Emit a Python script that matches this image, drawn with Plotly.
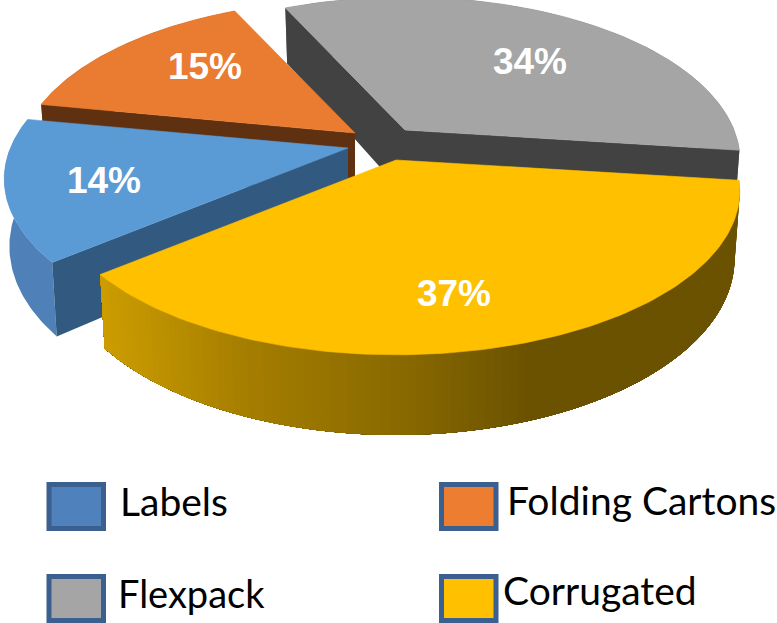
import math
import plotly.graph_objects as go

# ---- data ----
categories = ["Corrugated", "Labels", "Folding Cartons", "Flexpack"]
shares = [37, 14, 15, 34]
top_colors = ["#FFC000", "#5B9BD5", "#E97C30", "#A5A5A5"]
wall_colors = ["#6B5200", "#32597F", "#5F3111", "#424242"]
rim_colors = ["#6B5200", "#4F80B8", "#8A4A1C", "#666666"]
legend_order = ["Labels", "Folding Cartons", "Flexpack", "Corrugated"]
legend_fill = ["#4F81BD", "#ED7D31", "#A5A5A5", "#FFC000"]

# ---- layout of the exploded pie (pixels) ----
W, H = 777, 623
START_DEG = 7.2
RX, RY_S, K, DEPTH, BOTTOM_X = 341.0, 158.0, 0.189, 65.0, 0.985
apex = {"Corrugated": (396, 160), "Labels": (348, 148), "Folding Cartons": (355, 133), "Flexpack": (405, 130)}
x_scale = {"Corrugated": 0.99, "Labels": 0.99, "Folding Cartons": 0.97, "Flexpack": 0.965}
label_pos = {"Corrugated": (454, 297), "Labels": (104, 184), "Folding Cartons": (205, 70), "Flexpack": (530, 65)}
legend_box = {"Labels": (49, 484.5), "Folding Cartons": (441.5, 484.5), "Flexpack": (49, 576.5), "Corrugated": (441.5, 576.5)}
legend_text = {"Labels": (118, 501, 39), "Folding Cartons": (505, 500, 39), "Flexpack": (116, 593, 38), "Corrugated": (501, 590, 39)}
# yellow rim gradient stops: (pixel x, rgb)
grad = [(100, (205, 157, 0)), (250, (165, 126, 0)), (400, (138, 106, 0)), (535, (107, 82, 0)), (760, (107, 82, 0))]


def proj(name, deg, bottom=False, r=1.0):
    t = math.radians(deg)
    c, s = r * math.cos(t), r * math.sin(t)
    w = 1 - K * s
    ax, ay = apex[name]
    x = RX * x_scale[name] * c / w
    y = RY_S * s / w
    if bottom:
        x *= BOTTOM_X
        y += DEPTH / w
    return ax + x, ay + y


def grad_color(x):
    for (x0, c0), (x1, c1) in zip(grad, grad[1:]):
        if x <= x1:
            f = max(0, (x - x0) / (x1 - x0))
            return "rgb(%d,%d,%d)" % tuple(round(a + (b - a) * f) for a, b in zip(c0, c1))
    return "rgb(107,82,0)"


def poly(fig, xs, ys, color, lw=0.6):
    fig.add_trace(go.Scatter(
        x=list(xs) + [xs[0]], y=list(ys) + [ys[0]], mode="lines", fill="toself",
        fillcolor=color, line=dict(color=color, width=lw), hoverinfo="skip", showlegend=False))


fig = go.Figure()
start = {}
a = START_DEG
for n, v in zip(categories, shares):
    start[n] = (a, a + v * 3.6)
    a += v * 3.6

for n in ["Flexpack", "Folding Cartons", "Labels", "Corrugated"]:
    i = categories.index(n)
    a0, a1 = start[n]
    ax, ay = apex[n]
    # outer rim: facets each reach to the slice's far end, painted in order, so no seams show
    steps = 110 if n == "Corrugated" else 1
    for k in range(steps):
        d0 = a0 + (a1 - a0) * k / steps
        arc = [d0 + (a1 - d0) * q / 60 for q in range(61)]
        top = [proj(n, d) for d in arc]
        bot = [proj(n, d, True) for d in reversed(arc)]
        pts = top + bot
        col = grad_color(proj(n, d0)[0]) if n == "Corrugated" else rim_colors[i]
        poly(fig, [q[0] for q in pts], [q[1] for q in pts], col, lw=0)
    # radial walls that face the viewer
    edges = {"Flexpack": (a1, a0), "Folding Cartons": (a0,), "Labels": (a0,), "Corrugated": ()}[n]
    for edge in edges:
        tx, ty = proj(n, edge)
        bx, by = proj(n, edge, True)
        ax_b, ay_b = proj(n, edge, True, 0.0)
        poly(fig, [ax, tx, bx, ax_b], [ay, ty, by, ay_b], wall_colors[i], lw=0)
    # top face
    pts = [proj(n, a0 + (a1 - a0) * k / 120) for k in range(121)]
    poly(fig, [ax] + [q[0] for q in pts], [ay] + [q[1] for q in pts], top_colors[i])

# percentage labels
for n, v in zip(categories, shares):
    x, y = label_pos[n]
    fig.add_trace(go.Scatter(
        x=[x], y=[y], mode="text", text=[f"{v}%"], textposition="middle center",
        textfont=dict(family="Liberation Sans", size=37, color="white", weight="bold"),
        hoverinfo="skip", showlegend=False))

# legend
shapes, annotations = [], []
for n, fill in zip(legend_order, legend_fill):
    x, y = legend_box[n]
    shapes.append(dict(type="rect", xref="x", yref="y", x0=x, x1=x + 54.5, y0=y, y1=y + 44,
                       fillcolor=fill, line=dict(color="#3B5F8F", width=5), layer="above"))
    tx, ty, ts = legend_text[n]
    annotations.append(dict(x=tx, y=ty, xref="x", yref="y", text=n, showarrow=False,
                            xanchor="left", yanchor="middle", xshift=0,
                            font=dict(family="Lato", size=ts, color="black")))

fig.update_layout(
    width=W, height=H, margin=dict(l=0, r=0, t=0, b=0),
    paper_bgcolor="white", plot_bgcolor="white", showlegend=False,
    shapes=shapes, annotations=annotations,
    xaxis=dict(range=[0, W], visible=False, fixedrange=True),
    yaxis=dict(range=[H, 0], visible=False, fixedrange=True),
)
fig.write_html("out.html", post_script="document.body.style.margin='0';document.body.style.overflow='hidden';",
               config={"displayModeBar": False})
